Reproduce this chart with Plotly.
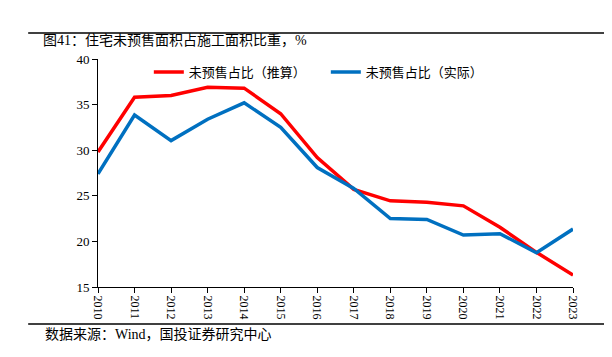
import plotly.graph_objects as go

years = [str(y) for y in range(2010, 2024)]
est_share = [29.8, 35.8, 36.0, 36.9, 36.8, 34.0, 29.2, 25.7, 24.45, 24.3, 23.9, 21.55, 18.8, 16.3]
act_share = [27.4, 33.85, 31.05, 33.4, 35.2, 32.5, 28.1, 25.8, 22.5, 22.4, 20.7, 20.85, 18.75, 21.35]
series_names = ["未预售占比（推算）", "未预售占比（实际）"]
title_text = "图41：住宅未预售面积占施工面积比重，%"
source_text = "数据来源：Wind，国投证券研究中心"

FONT = "Liberation Serif, Noto Sans CJK SC, serif"

fig = go.Figure()
fig.add_trace(go.Scatter(x=years, y=est_share, mode="lines", name=series_names[0],
                         line=dict(color="#FF0000", width=3.5)))
fig.add_trace(go.Scatter(x=years, y=act_share, mode="lines", name=series_names[1],
                         line=dict(color="#0070C0", width=3.5)))

# page body has an 8px margin, so margins are offset accordingly
fig.update_layout(
    width=612, height=357,
    margin=dict(l=90, r=47, t=51, b=78),
    paper_bgcolor="white", plot_bgcolor="white",
    font=dict(family=FONT, size=12, color="black"),
    showlegend=True,
    legend=dict(orientation="h", x=0.107, y=0.943, xanchor="left", yanchor="middle",
                font=dict(size=13, family=FONT), bgcolor="rgba(0,0,0,0)",
                itemwidth=30, tracegroupgap=0, entrywidth=132),
    xaxis=dict(type="category", showgrid=False, showline=True, linecolor="black", linewidth=1,
               ticks="outside", ticklen=5, tickcolor="black", tickangle=90,
               tickfont=dict(size=12, family=FONT), range=[0, 13], zeroline=False),
    yaxis=dict(range=[15, 40], dtick=5, showgrid=False, showline=True, linecolor="black", linewidth=1,
               ticks="outside", ticklen=5, tickcolor="black",
               tickfont=dict(size=13, family=FONT), zeroline=False),
    shapes=[
        dict(type="line", xref="paper", yref="paper", x0=-0.147, x1=1.09, y0=1.114, y1=1.114,
             line=dict(color="black", width=1.5)),
        dict(type="line", xref="paper", yref="paper", x0=-0.147, x1=1.09, y0=-0.162, y1=-0.162,
             line=dict(color="black", width=1.5)),
    ],
    annotations=[
        dict(text=title_text, xref="paper", yref="paper", x=-0.12, y=1.08,
             xanchor="left", yanchor="middle", showarrow=False,
             font=dict(size=14, family=FONT)),
        dict(text=source_text, xref="paper", yref="paper", x=-0.116, y=-0.21,
             xanchor="left", yanchor="middle", showarrow=False,
             font=dict(size=14, family=FONT)),
    ],
)

fig.write_html("out.html")
